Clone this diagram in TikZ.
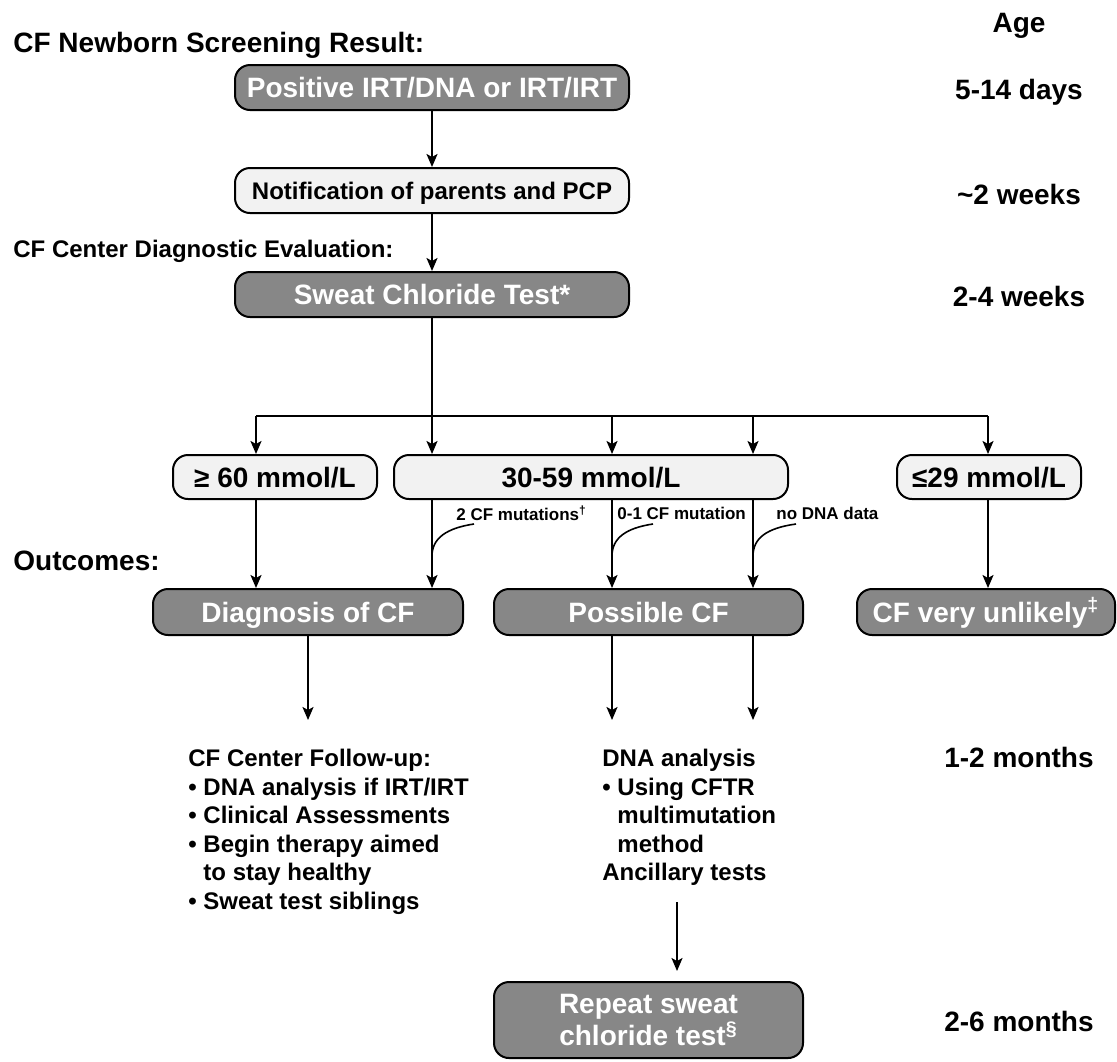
\documentclass[tikz,border=0pt]{standalone}
\usepackage{fontspec}
\setmainfont{Liberation Sans}
\usetikzlibrary{arrows.meta}
\definecolor{boxdark}{HTML}{878787}
\definecolor{boxlight}{HTML}{F2F2F2}
\tikzset{
  box/.style={draw=black, line width=1pt, rounded corners=7.5pt, inner sep=0pt, align=center,
    font=\fontsize{14}{16}\selectfont\bfseries},
  oneline/.style={text height=10pt, text depth=0pt},
  darkbox/.style={box, fill=boxdark, text=white},
  lightbox/.style={box, fill=boxlight, text=black},
  conn/.style={line width=1pt},
  arr/.style={conn, -{Stealth[length=6.5pt,width=5.5pt,inset=1.5pt]}},
  lbl/.style={font=\fontsize{8.5}{10}\selectfont\bfseries, inner sep=0pt, anchor=west},
  curveline/.style={line width=0.8pt},
  heading/.style={font=\fontsize{14}{16}\selectfont\bfseries, inner sep=0pt, anchor=base west},
  subheading/.style={font=\fontsize{12}{14}\selectfont\bfseries, inner sep=0pt, anchor=base west},
  agetext/.style={font=\fontsize{14}{16}\selectfont\bfseries, inner sep=0pt, anchor=base},
  listtext/.style={font=\fontsize{12}{14.25}\selectfont\bfseries, inner sep=0pt, align=left, anchor=north west}
}
\begin{document}
\begin{tikzpicture}[x=0.5pt, y=-0.5pt]
\useasboundingbox (0,0) rectangle (1117,1061);

% headings
\node[heading] (hnb) at (13,52) {CF Newborn Screening Result:};
\node[subheading] (hcf) at (13,257) {CF Center Diagnostic Evaluation:};
\node[heading] (hout) at (13,570) {Outcomes:};

% age column
\node[agetext] (age) at (1019,32) {Age};
\node[agetext] (a1) at (1019,99) {5-14 days};
\node[agetext] (a2) at (1019,204) {\textasciitilde2 weeks};
\node[agetext] (a3) at (1019,306) {2-4 weeks};
\node[agetext] (a4) at (1019,767) {1-2 months};
\node[agetext] (a5) at (1019,1031) {2-6 months};

% top boxes
\node[darkbox, oneline, minimum width=197pt, minimum height=22.5pt] (b1) at (432,87.5) {Positive IRT/DNA or IRT/IRT};
\node[lightbox, minimum width=197pt, minimum height=22.5pt, font=\fontsize{12}{14}\selectfont\bfseries, text height=8.6pt, text depth=0pt] (b2) at (432,190.5) {Notification of parents and PCP};
\node[darkbox, oneline, minimum width=197pt, minimum height=22.5pt] (b3) at (432,294.5) {Sweat Chloride Test*};

% value boxes
\node[lightbox, oneline, minimum width=102pt, minimum height=22pt] (ge) at (275,477) {≥ 60 mmol/L};
\node[lightbox, oneline, minimum width=197pt, minimum height=22pt] (mid) at (591,477) {30-59 mmol/L};
\node[lightbox, oneline, minimum width=92pt, minimum height=22pt] (le) at (989,477) {≤29 mmol/L};

% outcome boxes
\node[darkbox, oneline, minimum width=155pt, minimum height=23pt] (diag) at (308,612) {Diagnosis of CF};
\node[darkbox, oneline, minimum width=154.5pt, minimum height=23pt] (poss) at (648.5,612) {Possible CF};
\node[darkbox, oneline, minimum width=129pt, minimum height=23pt] (unl) at (986,612) {CF very unlikely\textsuperscript{‡}};
\node[darkbox, minimum width=154.5pt, minimum height=38pt, font=\fontsize{14}{16}\selectfont\bfseries] (rep) at (648.5,1020) {Repeat sweat\\chloride test\textsuperscript{§}};

% follow-up texts
\node[listtext] (fu) at (188,749) {CF Center Follow-up:\\
• DNA analysis if IRT/IRT\\
• Clinical Assessments\\
• Begin therapy aimed\\
\phantom{• }to stay healthy\\
• Sweat test siblings};
\node[listtext] (dna) at (602,749) {DNA analysis\\
• Using CFTR\\
\phantom{• }multimutation\\
\phantom{• }method\\
Ancillary tests};

% edge labels
\node[lbl] (l1) at (456,513) {2 CF mutations\textsuperscript{†}};
\node[lbl] (l2) at (617,513) {0-1 CF mutation};
\node[lbl] (l3) at (776,513) {no DNA data};

% junction coordinates
\coordinate (j0) at (432,416);
\coordinate (j1) at (256,416);
\coordinate (j2) at (612,416);
\coordinate (j3) at (753,416);
\coordinate (j4) at (988,416);
\coordinate (f1) at (308,720);
\coordinate (f2) at (612,720);
\coordinate (f3) at (753,720);
\coordinate (g1) at (677,902);
\coordinate (c1) at (474,524);
\coordinate (c2) at (653,524);
\coordinate (c3) at (796,524);

% connectors
\draw[arr] (b1) -- (b2);
\draw[arr] (b2) -- (b3);
\draw[conn] (b3) -- (j0);
\draw[conn] (j1) -- (j4);
\draw[arr] (j1) -- (ge.north -| j1);
\draw[arr] (j0) -- (mid.north -| j0);
\draw[arr] (j2) -- (mid.north -| j2);
\draw[arr] (j3) -- (mid.north -| j3);
\draw[arr] (j4) -- (le.north -| j4);

\draw[arr] (ge.south -| j1) -- (diag.north -| j1);
\draw[arr] (mid.south -| j0) -- (diag.north -| j0);
\draw[arr] (mid.south -| j2) -- (poss.north -| j2);
\draw[arr] (mid.south -| j3) -- (poss.north -| j3);
\draw[arr] (le.south -| j4) -- (unl.north -| j4);

\draw[curveline] (c1) .. controls (447,528) and (432,538) .. (432,556);
\draw[curveline] (c2) .. controls (626,528) and (612,538) .. (612,556);
\draw[curveline] (c3) .. controls (767,528) and (753,538) .. (753,556);

\draw[arr] (diag) -- (f1);
\draw[arr] (poss.south -| f2) -- (f2);
\draw[arr] (poss.south -| f3) -- (f3);
\draw[arr, shorten >=5pt] (g1) -- (rep.north -| g1);
\end{tikzpicture}
\end{document}
